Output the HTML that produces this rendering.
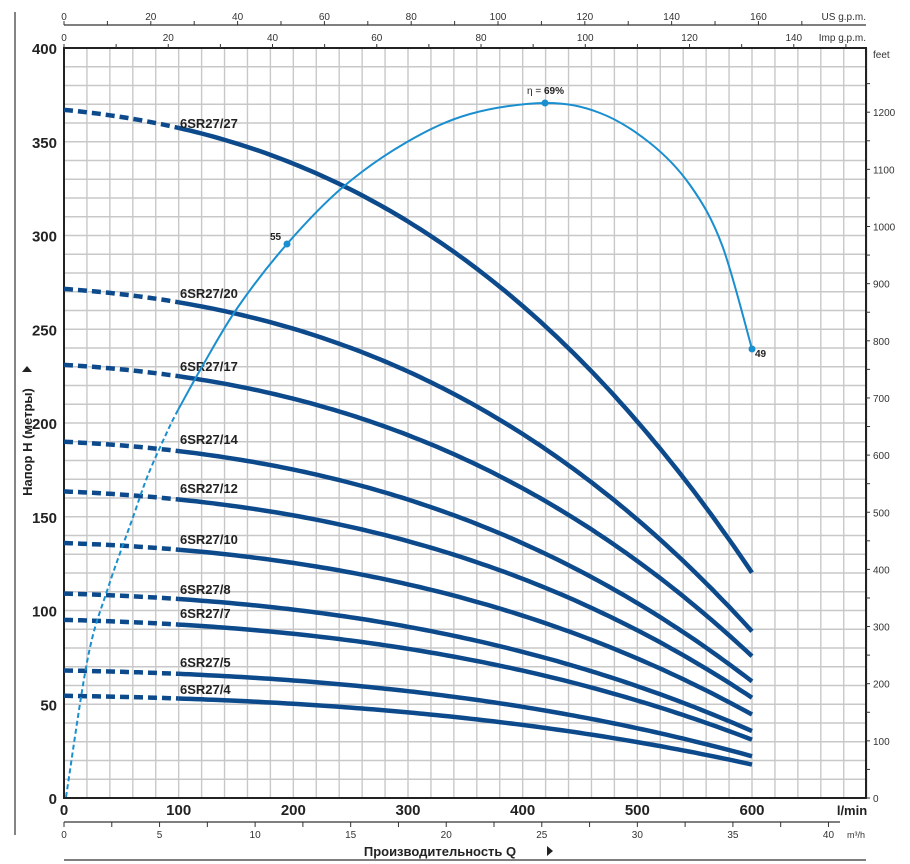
<!DOCTYPE html>
<html><head><meta charset="utf-8"><style>
html,body{margin:0;padding:0;background:#fff;}
svg{display:block;font-family:"Liberation Sans",Arial,sans-serif;}
</style></head><body>
<svg id="s" width="910" height="864" viewBox="0 0 910 864" xmlns="http://www.w3.org/2000/svg"></svg>
<script>
const S=document.getElementById('s');let h='';
const X0=64,PX=1.14667,Y0=798,PY=1.875;
const X=q=>X0+q*PX, Y=m=>Y0-m*PY;
for(let q=0;q<=700;q+=20){const x=X(q);h+=`<line x1="${x}" y1="48" x2="${x}" y2="798" stroke="#c8c8c8" stroke-width="1.4"/>`;}
for(let m=0;m<=400;m+=10){const y=Y(m);h+=`<line x1="64" y1="${y}" x2="866" y2="${y}" stroke="#c8c8c8" stroke-width="1.4"/>`;}
h+=`<rect x="64" y="48" width="802" height="750" fill="none" stroke="#222" stroke-width="2"/>`;
for(let m=0;m<=400;m+=50){h+=`<text x="57" y="${Y(m)+6}" text-anchor="end" font-size="15" font-weight="bold" fill="#222">${m}</text>`;}
for(let q=0;q<=600;q+=100){h+=`<text x="${X(q)}" y="815" text-anchor="middle" font-size="15" font-weight="bold" fill="#222">${q}</text>`;}
h+=`<text x="852" y="815" text-anchor="middle" font-size="13" font-weight="bold" fill="#222">l/min</text>`;
h+=`<line x1="64" y1="822" x2="840" y2="822" stroke="#333" stroke-width="1.2"/>`;
for(let v=0;v<=45;v+=2.5){const x=X(v*16.667);if(x>840)break;h+=`<line x1="${x}" y1="822" x2="${x}" y2="827" stroke="#333"/>`;if(v%5==0)h+=`<text x="${x}" y="838" text-anchor="middle" font-size="10" fill="#333">${v}</text>`;}
h+=`<text x="856" y="838" text-anchor="middle" font-size="9" fill="#333">m³/h</text>`;
h+=`<line x1="64" y1="860" x2="866" y2="860" stroke="#333" stroke-width="1.2"/>`;
h+=`<text x="440" y="856" text-anchor="middle" font-size="13" font-weight="bold" fill="#222">Производительность Q</text><path d="M547,846 l6,5 l-6,5z" fill="#222"/>`;
h+=`<line x1="15" y1="12" x2="15" y2="835" stroke="#333" stroke-width="1.2"/>`;
h+=`<text transform="translate(32,442) rotate(-90)" text-anchor="middle" font-size="13" font-weight="bold" fill="#222">Напор H (метры)</text><path d="M22,372 l5,-6 l5,6z" fill="#222"/>`;
h+=`<line x1="64" y1="25" x2="866" y2="25" stroke="#333" stroke-width="1.2"/>`;
for(let g=0;g<=170;g+=10){const x=X(g*3.785);if(x>866)break;h+=`<line x1="${x}" y1="25" x2="${x}" y2="21" stroke="#333"/>`;if(g%20==0)h+=`<text x="${x}" y="20" text-anchor="middle" font-size="10" fill="#333">${g}</text>`;}
h+=`<text x="866" y="20" text-anchor="end" font-size="10" fill="#333">US g.p.m.</text>`;
for(let g=0;g<=150;g+=10){const x=X(g*4.546);if(x>866)break;h+=`<line x1="${x}" y1="48" x2="${x}" y2="44" stroke="#333"/>`;if(g%20==0)h+=`<text x="${x}" y="41" text-anchor="middle" font-size="10" fill="#333">${g}</text>`;}
h+=`<text x="866" y="41" text-anchor="end" font-size="10" fill="#333">Imp g.p.m.</text>`;
h+=`<text x="873" y="58" font-size="10" fill="#333">feet</text>`;
for(let f=0;f<=1250;f+=50){const y=Y(f*0.3048);h+=`<line x1="866" y1="${y}" x2="870" y2="${y}" stroke="#333"/>`;if(f%100==0)h+=`<text x="873" y="${y+4}" font-size="10" fill="#333">${f}</text>`;}
function cr(pts){let d=`M${pts[0][0].toFixed(1)},${pts[0][1].toFixed(1)}`;for(let i=0;i<pts.length-1;i++){const p0=pts[Math.max(0,i-1)],p1=pts[i],p2=pts[i+1],p3=pts[Math.min(pts.length-1,i+2)];
d+=` C${(p1[0]+(p2[0]-p0[0])/6).toFixed(1)},${(p1[1]+(p2[1]-p0[1])/6).toFixed(1)} ${(p2[0]-(p3[0]-p1[0])/6).toFixed(1)},${(p2[1]-(p3[1]-p1[1])/6).toFixed(1)} ${p2[0].toFixed(1)},${p2[1].toFixed(1)}`;}return d;}
function ratio(q){const u=q/600;return 1-0.0937*u-0.344*u*u-0.235*u*u*u;}
function poly(pts){return 'M'+pts.map(p=>p[0].toFixed(1)+','+p[1].toFixed(1)).join(' L');}
const pumps=[[27,367,122],[20,271.5,292],[17,231,365],[14,190,438],[12,163.5,487],[10,136,538],[8,109,588],[7,95,612],[5,68,661],[4,54.5,688]];
for(const [n,H0,ly] of pumps){
 const dp=[],sp=[];for(let q=0;q<=100;q+=5)dp.push([X(q),Y(H0*ratio(q))]);
 for(let q=100;q<=600;q+=5)sp.push([X(q),Y(H0*ratio(q))]);
 h+=`<path d="${poly(dp)}" fill="none" stroke="#0d4a8c" stroke-width="4.5" stroke-dasharray="9,5"/>`;
 h+=`<path d="${poly(sp)}" fill="none" stroke="#0d4a8c" stroke-width="4.5"/>`;
 h+=`<text x="180" y="${ly+6}" font-size="13" font-weight="bold" fill="#222">6SR27/${n}</text>`;
}
const ed=[[66,797],[88,657],[108,588],[132,520],[148,475],[168,430],[178,410]];
const es=[[178,410],[203,365],[238,307],[287,244],[343,187],[407,142],[470,114],[545,103],[600,113],[650,143],[690,185],[722,245],[752,349]];
h+=`<path d="${cr(ed)}" fill="none" stroke="#1a8fd0" stroke-width="2" stroke-dasharray="5,3"/>`;
h+=`<path d="${cr(es)}" fill="none" stroke="#1a8fd0" stroke-width="2"/>`;
for(const p of [[287,244],[545,103],[752,349]])h+=`<circle cx="${p[0]}" cy="${p[1]}" r="3.5" fill="#1a8fd0"/>`;
h+=`<text x="270" y="240" font-size="10" font-weight="bold" fill="#222">55</text>`;
h+=`<text x="755" y="357" font-size="10" font-weight="bold" fill="#222">49</text>`;
h+=`<text x="527" y="94" font-size="10" fill="#222">η = <tspan font-weight="bold">69%</tspan></text>`;
S.innerHTML=h;
</script>
</body></html>
